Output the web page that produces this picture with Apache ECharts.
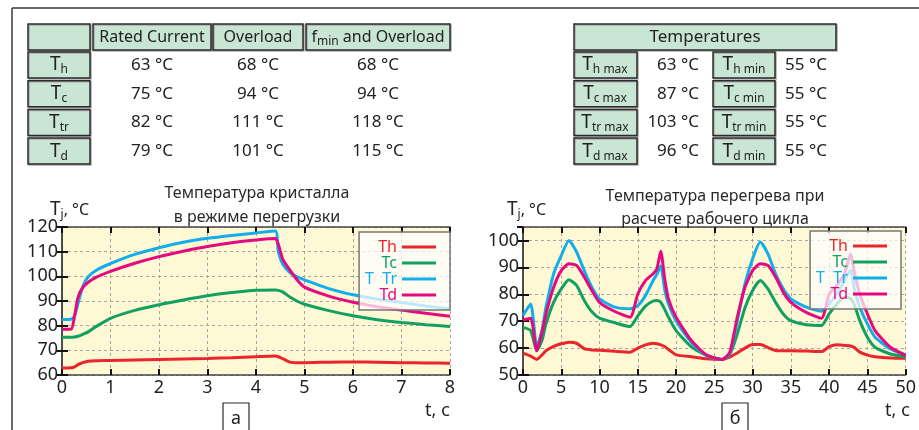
<!DOCTYPE html>
<html>
<head>
<meta charset="utf-8">
<script src="https://cdn.jsdelivr.net/npm/echarts@6/dist/echarts.min.js"></script>
<style>
  html, body { margin: 0; padding: 0; background: #fff; }
  #main { width: 919px; height: 430px; }
</style>
</head>
<body>
<div id="main"></div>
<script>
// tables
const rowSubs = ['h', 'c', 'tr', 'd']
const colHeads = ['Rated Current', 'Overload', '{n|f}{s|min}{n| and Overload}']
const ratedCurrent = [63, 75, 82, 79]
const overload = [68, 94, 111, 101]
const fminOverload = [68, 94, 118, 115]
const tempMax = [63, 87, 103, 96]
const tempMin = [55, 55, 55, 55]

// chart a: overload
const timeA = [0, 0.19, 0.26, 0.33, 0.43, 0.54, 0.7, 1, 1.5, 2, 2.5, 3, 3.5, 4, 4.4, 4.46, 4.55, 4.7, 4.85, 5, 5.5, 6, 6.5, 7, 7.5, 8]
const thA = [62.8, 62.9, 63.3, 64.2, 65.0, 65.6, 65.8, 65.9, 66.1, 66.3, 66.5, 66.7, 67.0, 67.4, 67.7, 67.4, 66.6, 65.2, 65.0, 65.0, 65.2, 65.3, 65.2, 65.0, 64.9, 64.8]
const tcA = [75.3, 75.3, 75.4, 75.7, 76.5, 77.5, 79.6, 83.0, 86.2, 88.5, 90.4, 92.1, 93.4, 94.4, 94.5, 94.3, 93.7, 91.6, 89.9, 88.7, 86.1, 84.0, 82.4, 81.3, 80.4, 79.7]
const trA = [82.5, 82.6, 84.0, 89.0, 96.0, 99.8, 102.4, 105.2, 108.9, 111.6, 113.8, 115.4, 116.6, 117.6, 118.4, 110.0, 105.0, 101.5, 99.8, 98.6, 95.0, 92.5, 90.8, 89.4, 88.0, 86.8]
const tdA = [78.5, 78.6, 84.0, 91.5, 95.5, 97.6, 99.6, 102.0, 105.3, 108.0, 110.2, 112.1, 113.6, 114.7, 115.3, 113.0, 107.0, 102.5, 98.5, 95.6, 92.0, 89.5, 87.7, 86.3, 85.0, 83.8]

// chart b: duty cycle
const timeB = [0, 1, 1.8, 2.5, 3, 4, 5, 6, 7, 8, 9, 10, 12, 14, 15, 16, 17, 17.5, 18, 18.5, 19, 20, 22, 24, 26, 27, 28, 29, 30, 31, 32, 33, 34, 35, 37, 39, 40, 41, 42, 42.8, 43.3, 44, 45, 46, 48, 50]
const thB = [58.1, 57.0, 55.8, 57.5, 59.0, 60.6, 61.6, 62.2, 61.8, 59.8, 59.3, 59.2, 58.8, 58.5, 60.0, 61.2, 61.8, 61.6, 61.2, 60.6, 59.5, 57.5, 56.8, 56.0, 55.8, 56.6, 58.2, 60.0, 61.3, 61.3, 60.2, 59.1, 59.0, 59.0, 58.9, 58.7, 60.5, 61.2, 61.0, 60.8, 60.2, 58.5, 57.4, 56.8, 56.3, 56.2]
const tcB = [67.7, 66.5, 59.0, 63.0, 69.0, 77.0, 82.0, 85.4, 83.3, 77.7, 73.5, 71.1, 69.4, 68.0, 72.0, 75.6, 77.5, 77.7, 77.0, 74.5, 71.5, 66.5, 60.5, 57.2, 55.8, 57.5, 65.3, 75.0, 81.4, 85.1, 82.0, 77.0, 72.7, 70.2, 68.7, 68.4, 72.7, 76.4, 79.0, 78.4, 76.0, 70.2, 64.0, 60.3, 57.8, 56.8]
const trB = [72.1, 76.4, 60.3, 67.0, 75.2, 87.6, 94.4, 100.0, 95.7, 88.8, 82.6, 78.3, 75.2, 74.6, 75.8, 79.5, 85.1, 87.5, 90.5, 82.0, 76.4, 70.2, 62.2, 57.2, 55.8, 57.8, 70.2, 83.9, 93.2, 99.4, 95.0, 87.6, 82.0, 78.3, 75.2, 73.7, 76.4, 80.1, 85.1, 89.0, 82.0, 75.2, 69.0, 64.0, 59.7, 57.6]
const tdB = [70.5, 71.1, 59.0, 66.0, 72.7, 82.6, 88.8, 91.3, 90.7, 86.4, 81.4, 77.0, 73.6, 71.5, 80.1, 85.1, 87.6, 89.5, 96.0, 86.0, 78.3, 71.5, 62.8, 57.4, 55.8, 58.4, 71.5, 82.6, 88.8, 91.3, 90.7, 86.4, 80.8, 77.0, 73.3, 71.1, 80.1, 83.3, 87.6, 95.0, 88.0, 80.1, 72.7, 66.5, 60.3, 57.2]

const seriesNames = ['Th', 'Tc', 'T  Tr', 'Td']
const seriesColors = ['#E8262B', '#10A060', '#12AEEB', '#E5097F']

const FONT = '"Noto Sans", sans-serif'
const dark = '#2b2b2b'
const cellFill = '#C9E6D4'

const chart = echarts.init(document.getElementById('main'))

function pairs(ts, vs) {
  return ts.map((t, i) => [t, vs[i]])
}

// graphic helpers
function box(x, y, w, h) {
  return {
    type: 'rect',
    shape: { x: x, y: y, width: w, height: h },
    style: { fill: cellFill, stroke: dark, lineWidth: 1.5, shadowColor: '#aaa', shadowOffsetX: 1, shadowOffsetY: 1 }
  }
}
const subRich = {
  m: { fontSize: 19, fontFamily: FONT, fill: '#222', lineHeight: 22, verticalAlign: 'middle' },
  n: { fontSize: 16, fontFamily: FONT, fill: '#222', lineHeight: 22, verticalAlign: 'middle' },
  s: { fontSize: 12, fontFamily: FONT, fill: '#222', lineHeight: 22, verticalAlign: 'bottom' }
}
function label(x, y, text, size, align) {
  return {
    type: 'text', x: x, y: y,
    style: {
      text: text, rich: subRich, fontSize: size || 17, fontFamily: FONT, fill: '#222',
      align: align || 'center', verticalAlign: 'middle'
    }
  }
}

const graphic = []
// outer frame
graphic.push({ type: 'line', shape: { x1: 12, y1: 8, x2: 919, y2: 8 }, style: { stroke: '#3a3a3a', lineWidth: 1.5 } })
graphic.push({ type: 'line', shape: { x1: 12, y1: 8, x2: 12, y2: 430 }, style: { stroke: '#3a3a3a', lineWidth: 1.5 } })

// left table
const colX = [[28, 62], [93, 118], [213, 90], [306, 144]]
colX.forEach(c => graphic.push(box(c[0], 24, c[1], 26)))
colHeads.forEach((h, i) => graphic.push(label(colX[i + 1][0] + colX[i + 1][1] / 2, 37, h, 16)))
const tableVals = [ratedCurrent, overload, fminOverload]
rowSubs.forEach((s, r) => {
  const y = 52 + r * 28.7
  graphic.push(box(28, y, 62, 26))
  graphic.push(label(59, y + 13, '{m|T}{s|' + s + '}'))
  tableVals.forEach((vals, c) => {
    graphic.push(label(colX[c + 1][0] + colX[c + 1][1] / 2, y + 13, vals[r] + ' °C', 17))
  })
})

// right table
graphic.push(box(574, 24, 262, 26))
graphic.push(label(705, 37, 'Temperatures', 17))
rowSubs.forEach((s, r) => {
  const y = 52 + r * 28.7
  graphic.push(box(574, y, 63, 26))
  graphic.push(label(605, y + 13, '{m|T}{s|' + s + ' max}'))
  graphic.push(label(699, y + 13, tempMax[r] + ' °C', 17, 'right'))
  graphic.push(box(713, y, 62, 26))
  graphic.push(label(744, y + 13, '{m|T}{s|' + s + ' min}'))
  graphic.push(label(827, y + 13, tempMin[r] + ' °C', 17, 'right'))
})

// axis names and panel letters
;[[50, 62, 450, 236, 'а'], [507, 523, 910, 735, 'б']].forEach(p => {
  graphic.push(label(p[0], 210, '{m|T}{s|j}{n|, °C}', 17, 'left'))
  graphic.push(label(p[2], 411, 't, с', 18, 'right'))
  graphic.push({
    type: 'polyline',
    shape: { points: [[p[3] - 13, 432], [p[3] - 13, 403], [p[3] + 13, 403], [p[3] + 13, 432]] },
    style: { fill: '#fff', stroke: dark, lineWidth: 1.2 }
  })
  graphic.push(label(p[3], 419, p[4], 18))
})

function xAxes(grid, max, interval) {
  const base = {
    gridIndex: grid, type: 'value', min: 0, max: max, interval: interval,
    axisLine: { lineStyle: { color: '#444', width: 1.5 } },
    axisTick: { inside: true, length: 6, lineStyle: { color: '#111', width: 2 } }
  }
  return [
    Object.assign({}, base, {
      position: 'bottom',
      axisLabel: { fontSize: 18, fontFamily: FONT, color: '#222', margin: 4 },
      splitLine: { show: true, lineStyle: { color: '#a5a5a5', type: [3, 3], width: 1 } }
    }),
    Object.assign({}, base, { position: 'top', axisLabel: { show: false }, splitLine: { show: false } })
  ]
}
function yAxes(grid, min, max, interval) {
  const base = {
    gridIndex: grid, type: 'value', min: min, max: max, interval: interval,
    axisLine: { show: true, lineStyle: { color: '#444', width: 1.5 } },
    axisTick: { show: true, inside: true, length: 6, lineStyle: { color: '#111', width: 2 } }
  }
  return [
    Object.assign({}, base, {
      position: 'left',
      axisLabel: { fontSize: 18, fontFamily: FONT, color: '#222', margin: 4, showMaxLabel: max % interval === 0 },
      splitLine: { show: true, lineStyle: { color: '#a5a5a5', type: [3, 3], width: 1 } }
    }),
    Object.assign({}, base, { position: 'right', axisLabel: { show: false }, splitLine: { show: false } })
  ]
}

function makeSeries(axis, time, lists) {
  return lists.map((vals, i) => ({
    name: seriesNames[i],
    type: 'line',
    xAxisIndex: axis, yAxisIndex: axis,
    data: pairs(time, vals),
    smooth: 0.2,
    showSymbol: false,
    lineStyle: { color: seriesColors[i], width: 3 },
    itemStyle: { color: seriesColors[i] }
  }))
}

function legendFor(right, top) {
  return {
    orient: 'vertical', align: 'right', right: right, top: top,
    icon: 'rect', itemWidth: 34, itemHeight: 3, itemGap: 0,
    padding: [7, 14, 7, 6],
    backgroundColor: 'rgba(255,255,255,0.72)',
    borderColor: '#777', borderWidth: 1.5,
    textStyle: { fontSize: 16, fontFamily: FONT, lineHeight: 14 },
    data: seriesNames.map((n, i) => ({ name: n, textStyle: { color: seriesColors[i] } }))
  }
}

chart.setOption({
  animation: false,
  textStyle: { fontFamily: FONT },
  title: [
    {
      text: 'Температура кристалла\nв режиме перегрузки',
      left: 257, top: 181, textAlign: 'center', padding: 0,
      textStyle: { fontSize: 16, fontWeight: 'normal', color: '#2a2a2a', lineHeight: 24, fontFamily: FONT }
    },
    {
      text: 'Температура перегрева при\nрасчете рабочего цикла',
      left: 715, top: 185, textAlign: 'center', padding: 0,
      textStyle: { fontSize: 16, fontWeight: 'normal', color: '#2a2a2a', lineHeight: 23, fontFamily: FONT }
    }
  ],
  grid: [
    { left: 62, top: 227, width: 388, height: 148, show: true, backgroundColor: '#FFF8D5', borderWidth: 0 },
    { left: 523, top: 227, width: 386, height: 148, show: true, backgroundColor: '#FFF8D5', borderWidth: 0 }
  ],
  xAxis: xAxes(0, 8, 1).concat(xAxes(1, 50, 5)),
  yAxis: yAxes(0, 60, 120, 10).concat(yAxes(1, 50, 105, 10)),
  legend: [legendFor(469, 232), legendFor(18, 231)],
  graphic: graphic,
  series: makeSeries(0, timeA, [thA, tcA, trA, tdA]).concat(makeSeries(2, timeB, [thB, tcB, trB, tdB]))
})
</script>
</body>
</html>
